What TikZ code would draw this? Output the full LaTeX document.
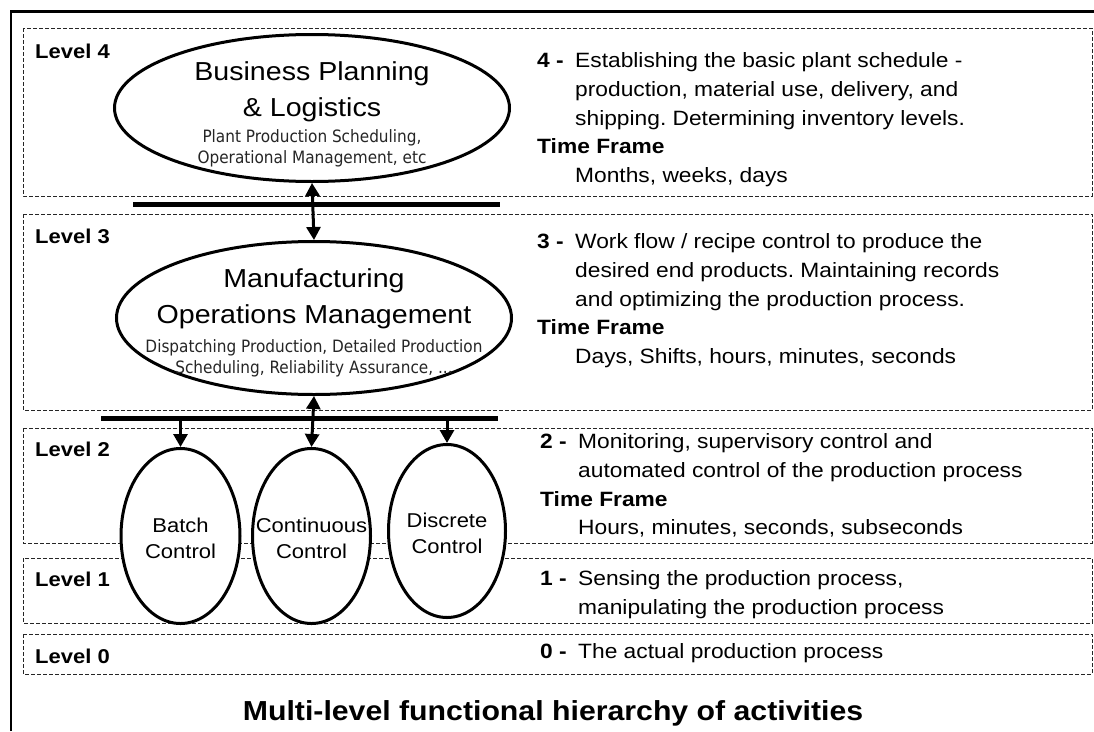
\documentclass[tikz,border=0pt]{standalone}
\usepackage{fontspec}
\setmainfont{Liberation Sans}[FakeStretch=1.1]
\newfontfamily\subfont{DejaVu Sans Condensed}
\usetikzlibrary{shapes.geometric}
\usetikzlibrary{arrows.meta}
\frenchspacing

\tikzset{
  levelbox/.style={draw=black!85, line width=1pt, dash pattern=on 4pt off 2pt},
  levelname/.style={anchor=base west, inner sep=0pt, font=\fontsize{20}{24}\selectfont\bfseries},
  oval/.style={ellipse, draw, line width=3pt, fill=white, inner sep=0pt},
  bigoval/.style={oval, minimum width=395pt, minimum height=150pt},
  ctrloval/.style={oval, minimum width=119pt, minimum height=175pt},
  ovaltitle/.style={align=center, inner sep=0pt, font=\fontsize{26}{36}\selectfont},
  ovalsub/.style={align=center, inner sep=0pt, text=black!85, font=\subfont\fontsize{17}{21}\selectfont},
  ctrltext/.style={align=center, inner sep=0pt, font=\fontsize{20}{26}\selectfont},
  desc/.style={anchor=north west, align=left, inner sep=0pt, font=\fontsize{20.7}{28.8}\selectfont},
  bus/.style={line width=5pt},
  link/.style={line width=3pt, >={Triangle[length=13pt,width=14pt]}},
}
\newcommand{\lvlnum}[1]{\makebox[38pt][l]{\bfseries #1}}
\newcommand{\descindent}{\hspace*{38pt}}

\begin{document}
\begin{tikzpicture}[x=1pt,y=-1pt]
\useasboundingbox (0,0) rectangle (1094,731);

% Outer frame
\draw[line width=2.5pt] (11,731) -- (11,11.5) -- (1094,11.5);

% Level boxes
\draw[levelbox] (23,28) rectangle (1092,196);
\draw[levelbox] (23,214) rectangle (1092,410);
\draw[levelbox] (23,428) rectangle (1092,543);
\draw[levelbox] (23,558) rectangle (1092,623);
\draw[levelbox] (23,634) rectangle (1092,674);

% Level names
\node[levelname] (lv4) at (35,58) {Level 4};
\node[levelname] (lv3) at (35,243) {Level 3};
\node[levelname] (lv2) at (35,456) {Level 2};
\node[levelname] (lv1) at (35,586) {Level 1};
\node[levelname] (lv0) at (35,663) {Level 0};

% Busses
\coordinate (bus1w) at (133,204);
\coordinate (bus1e) at (500,204);
\coordinate (bus2w) at (101,418);
\coordinate (bus2e) at (498,418);
\draw[bus] (bus1w) -- (bus1e);
\draw[bus] (bus2w) -- (bus2e);

% Business planning oval
\node[bigoval, minimum height=147pt] (bpl) at (312,108) {};
\node[ovaltitle] (bpltitle) at (312,91.5) {Business Planning\\\& Logistics};
\node[ovalsub] (bplsub) at (312,148.5) {Plant Production Scheduling,\\Operational Management, etc};

% Manufacturing operations oval
\node[bigoval, minimum height=153pt] (mom) at (314,318) {};
\node[ovaltitle] (momtitle) at (314,298.4) {Manufacturing\\Operations Management};
\node[ovalsub] (momsub) at (314,358.5) {Dispatching Production, Detailed Production\\Scheduling, Reliability Assurance, ...};

% Control ovals
\node[ctrloval, minimum height=175pt] (batch) at (180.5,536) {};
\node[ctrloval, minimum width=118pt] (cont) at (311.5,536) {};
\node[ctrloval, minimum width=117pt, minimum height=173pt] (disc) at (447,531) {};
\node[ctrltext] (batchtext) at (180.5,538) {Batch\\Control};
\node[ctrltext] (conttext) at (311.5,538) {Continuous\\Control};
\node[ctrltext] (disctext) at (447,533) {Discrete\\Control};

% Links
\draw[link,<->] (bpl.south) -- (mom.north);
\draw[link,<->] (mom.south) -- (cont.north);
\draw[link,->] (batch.north |- bus2w) -- (batch.north);
\draw[link,->] (disc.north |- bus2w) -- (disc.north);

% Descriptions
\node[desc] (desc4) at (537,52.2) {\lvlnum{4 -}Establishing the basic plant schedule -\\
  \descindent production, material use, delivery, and\\
  \descindent shipping. Determining inventory levels.\\
  \textbf{Time Frame}\\
  \descindent Months, weeks, days};
\node[desc] (desc3) at (537,233.2) {\lvlnum{3 -}Work flow / recipe control to produce the\\
  \descindent desired end products. Maintaining records\\
  \descindent and optimizing the production process.\\
  \textbf{Time Frame}\\
  \descindent Days, Shifts, hours, minutes, seconds};
\node[desc] (desc2) at (540,433.2) {\lvlnum{2 -}Monitoring, supervisory control and\\
  \descindent automated control of the production process\\
  \textbf{Time Frame}\\
  \descindent Hours, minutes, seconds, subseconds};
\node[desc] (desc1) at (540,570.2) {\lvlnum{1 -}Sensing the production process,\\
  \descindent manipulating the production process};
\node[desc] (desc0) at (540,643.2) {\lvlnum{0 -}The actual production process};

% Caption
\node[anchor=base, inner sep=0pt, font=\fontsize{27.5}{32}\selectfont\bfseries] (caption) at (553,720) {Multi-level functional hierarchy of activities};
\end{tikzpicture}
\end{document}
